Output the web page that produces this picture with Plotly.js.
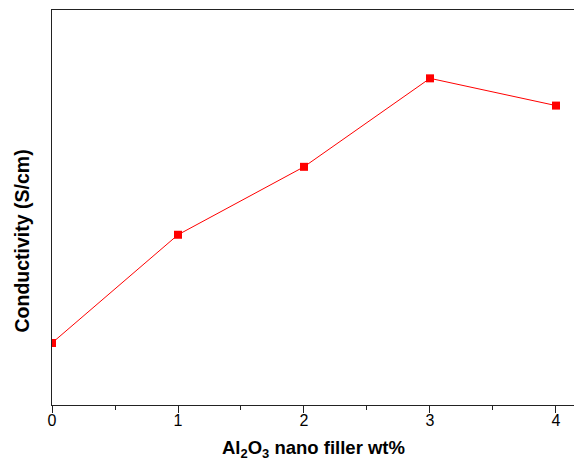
<!DOCTYPE html>
<html>
<head>
<meta charset="utf-8">
<script src="https://cdn.plot.ly/plotly-3.0.1.min.js"></script>
<style>html,body{margin:0;padding:0;background:#fff;}#chart{width:574px;height:466px;}</style>
</head>
<body>
<div id="chart"></div>
<script>
const fillerWt = [0, 1, 2, 3, 4];
const conductivity = [0.157, 0.431, 0.603, 0.827, 0.758];
const xTickVals = [0, 1, 2, 3, 4];
const xTickText = ['0', '1', '2', '3', '4'];
const xTitle = 'Al<sub>2</sub>O<sub>3</sub> nano filler wt%';
const yTitle = 'Conductivity (S/cm)';

const trace = {
  x: fillerWt,
  y: conductivity,
  mode: 'lines+markers',
  type: 'scatter',
  line: {color: '#ff0000', width: 1},
  marker: {symbol: 'square', size: 8, color: '#ff0000'},
  cliponaxis: true,
  hoverinfo: 'none'
};

const layout = {
  width: 574, height: 466,
  margin: {l: 52, r: 0, t: 10, b: 61},
  paper_bgcolor: '#fff', plot_bgcolor: '#fff',
  showlegend: false,
  font: {family: '"Liberation Sans", Arial, sans-serif', color: '#000'},
  xaxis: {
    range: [0, 4.143],
    tickvals: xTickVals, ticktext: xTickText,
    ticks: 'outside', ticklen: 7, tickwidth: 1, tickcolor: '#222',
    ticklabelstandoff: -6,
    minor: {dtick: 0.5, ticks: 'outside', ticklen: 4, tickwidth: 1, tickcolor: '#222'},
    showline: true, linecolor: '#222', linewidth: 1, mirror: true,
    showgrid: false, zeroline: false,
    tickfont: {size: 16, color: '#000'}
  },
  yaxis: {
    range: [0, 1],
    showticklabels: false, ticks: '',
    showline: true, linecolor: '#222', linewidth: 1,
    showgrid: false, zeroline: false
  },
  annotations: [{
    text: '<b>' + yTitle + '</b>',
    textangle: -90,
    xref: 'paper', yref: 'paper',
    x: -0.0575, y: 0.4165,
    xanchor: 'center', yanchor: 'middle',
    showarrow: false,
    font: {size: 19.5, color: '#000'}
  }, {
    text: '<b>' + xTitle + '</b>',
    xref: 'paper', yref: 'paper',
    x: 0.5, y: -0.112,
    xanchor: 'center', yanchor: 'middle',
    showarrow: false,
    font: {size: 18.5, color: '#000'}
  }]
};

Plotly.newPlot('chart', [trace], layout, {displayModeBar: false, staticPlot: true});
</script>
</body>
</html>
